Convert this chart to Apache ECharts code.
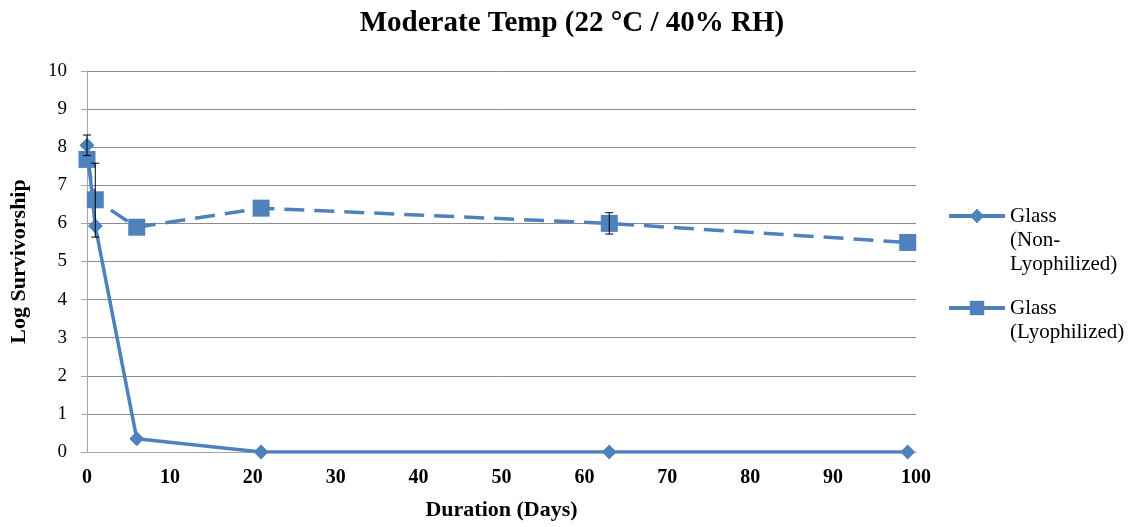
<!DOCTYPE html>
<html><head><meta charset="utf-8">
<script src="https://cdn.jsdelivr.net/npm/echarts@6/dist/echarts.min.js"></script>
<style>html,body{margin:0;padding:0;background:#fff}#c{width:1130px;height:527px}</style>
</head><body><div id="c"></div>
<script>
const days = [0, 1, 6, 21, 63, 99];
const nonLyo = [8.05, 5.93, 0.35, 0, 0, 0];
const lyo = [7.68, 6.62, 5.9, 6.4, 6.0, 5.5];
// error bars: [day, low, high]
const nonLyoErr = [[0, 7.78, 8.32]];
const lyoErr = [[1, 5.64, 7.58], [63, 5.72, 6.28]];
const names = ['Glass (Non-Lyophilized)', 'Glass (Lyophilized)'];
const legendLabels = {'Glass (Non-Lyophilized)': ['Glass', '(Non-', 'Lyophilized)'], 'Glass (Lyophilized)': ['Glass', '(Lyophilized)']};

const blue = '#4F81BD';
const font = 'Liberation Serif';
function legendText(n) {
  const lines = legendLabels[n];
  // pad with blank lines so the first line sits level with the icon
  return new Array(lines.length - 1).fill('').concat(lines).join('\n');
}
function errSeries(data) {
  return {
    type: 'custom', z: 5, silent: true,
    data: data,
    encode: {x: 0, y: [1, 2]},
    renderItem: function (params, api) {
      const x = api.value(0);
      const lo = api.coord([x, api.value(1)]);
      const hi = api.coord([x, api.value(2)]);
      const w = 4;
      const st = {stroke: '#000', lineWidth: 1};
      return {type: 'group', children: [
        {type: 'line', shape: {x1: lo[0], y1: lo[1], x2: hi[0], y2: hi[1]}, style: st},
        {type: 'line', shape: {x1: lo[0]-w, y1: lo[1], x2: lo[0]+w, y2: lo[1]}, style: st},
        {type: 'line', shape: {x1: hi[0]-w, y1: hi[1], x2: hi[0]+w, y2: hi[1]}, style: st}
      ]};
    }
  };
}
const legendCommon = {orient: 'vertical', left: 942, itemWidth: 56, itemHeight: 18,
  formatter: legendText,
  textStyle: {fontFamily: font, fontSize: 21, color: '#000', lineHeight: 24}};
const chart = echarts.init(document.getElementById('c'));
chart.setOption({
  animation: false,
  textStyle: {fontFamily: font},
  title: {text: 'Moderate Temp (22 °C / 40% RH)', left: 567, top: 4, textAlign: 'center',
    textStyle: {fontFamily: font, fontSize: 29, fontWeight: 'bold', color: '#000'}},
  grid: {left: 86, right: 214, top: 71, bottom: 75},
  legend: [
    Object.assign({data: [names[0]], top: 151, lineStyle: {width: 4}}, legendCommon),
    Object.assign({data: [names[1]], top: 267, lineStyle: {width: 4, type: 'solid'}}, legendCommon)
  ],
  xAxis: {type: 'value', min: 0, max: 100, interval: 10,
    name: 'Duration (Days)', nameLocation: 'middle', nameGap: 47,
    nameTextStyle: {fontFamily: font, fontSize: 22, fontWeight: 'bold', color: '#000'},
    axisLine: {lineStyle: {color: '#A6A6A6'}}, axisTick: {show: false},
    axisLabel: {fontFamily: font, fontSize: 20, fontWeight: 'bold', color: '#000', margin: 16},
    splitLine: {show: false}},
  yAxis: {type: 'value', min: 0, max: 10, interval: 1,
    name: 'Log Survivorship', nameLocation: 'middle', nameGap: 57,
    nameTextStyle: {fontFamily: font, fontSize: 22, fontWeight: 'bold', color: '#000'},
    axisLine: {show: true, lineStyle: {color: '#A6A6A6'}},
    axisTick: {show: true, length: 6, lineStyle: {color: '#A6A6A6'}},
    axisLabel: {fontFamily: font, fontSize: 19, color: '#000', margin: 20},
    splitLine: {lineStyle: {color: '#8C8C8C', width: 1}}},
  series: [
    {name: names[0], type: 'line', data: days.map((d, i) => [d, nonLyo[i]]),
      symbol: 'diamond', symbolSize: 15, color: blue,
      lineStyle: {width: 3.5, color: blue}, itemStyle: {color: blue}},
    {name: names[1], type: 'line', data: days.map((d, i) => [d, lyo[i]]),
      symbol: 'rect', symbolSize: 17, color: blue,
      lineStyle: {width: 3.5, color: blue, type: [20, 10]}, itemStyle: {color: blue}},
    errSeries(nonLyoErr),
    errSeries(lyoErr)
  ]
});
</script></body></html>
